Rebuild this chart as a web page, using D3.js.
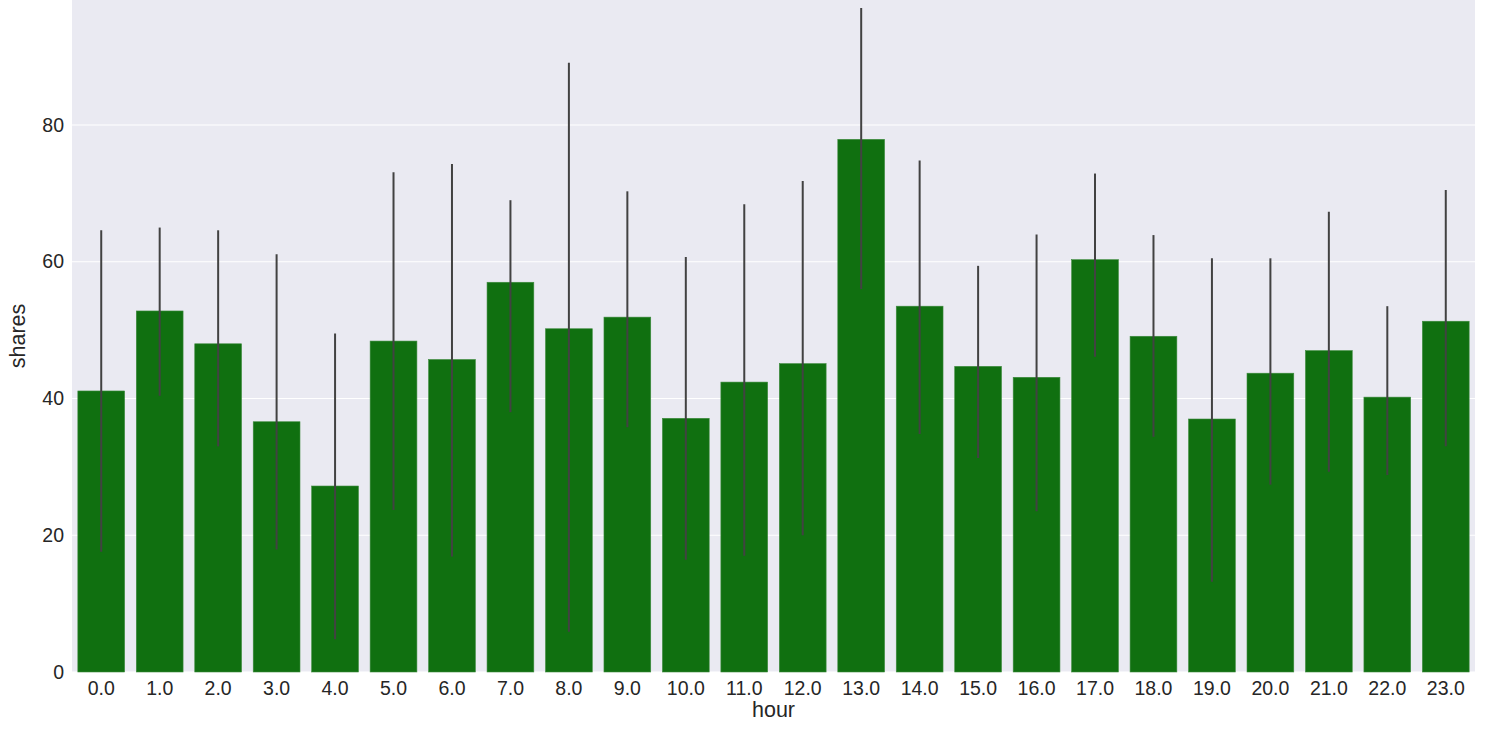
<!DOCTYPE html>
<html>
<head>
<meta charset="utf-8">
<script src="https://cdn.jsdelivr.net/npm/d3@7"></script>
<style>
  html, body { margin: 0; padding: 0; background: #ffffff; }
  svg { display: block; }
</style>
</head>
<body>
<svg id="chart" width="1498" height="729"></svg>
<script>
const hours = ["0.0","1.0","2.0","3.0","4.0","5.0","6.0","7.0","8.0","9.0","10.0","11.0","12.0","13.0","14.0","15.0","16.0","17.0","18.0","19.0","20.0","21.0","22.0","23.0"];
const shares = [41.1, 52.8, 48.0, 36.6, 27.2, 48.4, 45.7, 57.0, 50.2, 51.9, 37.1, 42.4, 45.1, 77.9, 53.5, 44.7, 43.1, 60.3, 49.1, 37.0, 43.7, 47.0, 40.2, 51.3];
const ciLow  = [17.6, 40.4, 33.0, 17.9, 4.8, 23.7, 16.9, 38.0, 5.9, 35.8, 16.4, 17.0, 20.0, 56.0, 34.8, 31.3, 23.5, 46.1, 34.4, 13.2, 27.4, 29.3, 28.8, 33.0];
const ciHigh = [64.6, 65.0, 64.6, 61.1, 49.5, 73.1, 74.3, 69.0, 89.1, 70.3, 60.7, 68.4, 71.8, 97.1, 74.8, 59.4, 64.0, 72.9, 63.9, 60.5, 60.5, 67.3, 53.5, 70.5];
const yTicks = [0, 20, 40, 60, 80];

const svg = d3.select("#chart");
const mLeft = 72, mRight = 1475, mTop = 0, mBottom = 672;

const x = d3.scaleBand().domain(hours).range([mLeft, mRight]).paddingInner(0.2).paddingOuter(0.1);
const y = d3.scaleLinear().domain([0, 98.28]).range([mBottom, mTop]);

svg.append("rect")
  .attr("x", mLeft).attr("y", mTop)
  .attr("width", mRight - mLeft).attr("height", mBottom - mTop)
  .attr("fill", "#eaeaf2");

svg.append("g").selectAll("line").data(yTicks).join("line")
  .attr("x1", mLeft).attr("x2", mRight)
  .attr("y1", d => y(d)).attr("y2", d => y(d))
  .attr("stroke", "#ffffff").attr("stroke-width", 1.2);

svg.append("g").selectAll("rect").data(hours).join("rect")
  .attr("x", d => x(d))
  .attr("y", (d, i) => y(shares[i]))
  .attr("width", x.bandwidth())
  .attr("height", (d, i) => y(0) - y(shares[i]))
  .attr("fill", "#107010")
  .attr("stroke", "#3d8a3d")
  .attr("stroke-width", 0.6);

svg.append("g").selectAll("line").data(hours).join("line")
  .attr("x1", d => x(d) + x.bandwidth() / 2)
  .attr("x2", d => x(d) + x.bandwidth() / 2)
  .attr("y1", (d, i) => y(ciLow[i]))
  .attr("y2", (d, i) => y(ciHigh[i]))
  .attr("stroke", "#424242").attr("stroke-width", 2);

const font = "'Liberation Sans', Arial, sans-serif";

const yAxis = svg.append("g")
  .attr("transform", `translate(${mLeft},0)`)
  .call(d3.axisLeft(y).tickValues(yTicks).tickSize(0).tickPadding(8).tickFormat(d3.format("d")));
yAxis.select(".domain").remove();
yAxis.selectAll("text").attr("font-family", font).attr("font-size", 19.5).attr("fill", "#262626");

const xAxis = svg.append("g")
  .attr("transform", `translate(0,${mBottom})`)
  .call(d3.axisBottom(x).tickSize(0).tickPadding(9));
xAxis.select(".domain").remove();
xAxis.selectAll("text").attr("font-family", font).attr("font-size", 19.5).attr("fill", "#262626");

svg.append("text")
  .attr("x", (mLeft + mRight) / 2).attr("y", 717)
  .attr("text-anchor", "middle")
  .attr("font-family", font).attr("font-size", 21.5).attr("fill", "#262626")
  .text("hour");

svg.append("text")
  .attr("transform", `translate(25,${(mTop + mBottom) / 2}) rotate(-90)`)
  .attr("text-anchor", "middle")
  .attr("font-family", font).attr("font-size", 21.5).attr("fill", "#262626")
  .text("shares");
</script>
</body>
</html>
